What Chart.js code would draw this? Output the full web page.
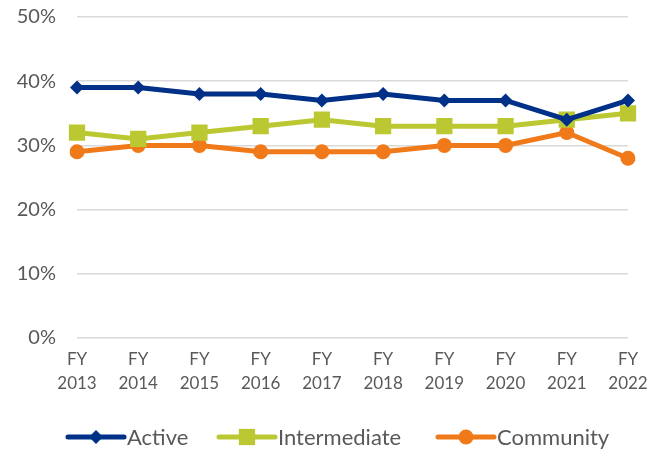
<!DOCTYPE html>
<html>
<head>
<meta charset="utf-8">
<script src="https://cdn.jsdelivr.net/npm/chart.js@4/dist/chart.umd.min.js"></script>
<style>
  body { margin: 0; background: #fff; }
  #wrap { width: 665px; height: 451px; }
</style>
</head>
<body>
<div id="wrap"><canvas id="shareChart" width="665" height="451"></canvas></div>
<script>
// fiscal years on the x axis
const years = ["2013", "2014", "2015", "2016", "2017", "2018", "2019", "2020", "2021", "2022"];
const yTicks = [0, 10, 20, 30, 40, 50];

// share of members per group (%)
const active = [39, 39, 38, 38, 37, 38, 37, 37, 34, 37];
const intermediate = [32, 31, 32, 33, 34, 33, 33, 33, 34, 35];
const community = [29, 30, 30, 29, 29, 29, 30, 30, 32, 28];

const FONT = "Lato, 'Open Sans', sans-serif";
const TEXT = "#595959";

// legend drawn by hand: line + marker, like the office chart
const lineLegend = {
  id: "lineLegend",
  afterDraw(chart) {
    const ctx = chart.ctx;
    const y = 437;
    const starts = [68, 219, 438];
    ctx.save();
    chart.data.datasets.forEach((ds, i) => {
      const x0 = starts[i];
      ctx.strokeStyle = ds.borderColor;
      ctx.lineWidth = 5;
      ctx.lineCap = "round";
      ctx.beginPath();
      ctx.moveTo(x0, y);
      ctx.lineTo(x0 + 56, y);
      ctx.stroke();
      ctx.fillStyle = ds.borderColor;
      Chart.helpers.drawPoint(ctx, {
        pointStyle: ds.pointStyle,
        radius: ds.pointRadius,
        borderWidth: 0,
        rotation: 0,
      }, x0 + 28, y);
      ctx.fillStyle = TEXT;
      ctx.font = "22px " + FONT;
      ctx.textBaseline = "middle";
      ctx.textAlign = "left";
      ctx.fillText(ds.label, x0 + 59, y + 1);
    });
    ctx.restore();
  },
};

const ctx = document.getElementById("shareChart").getContext("2d");
new Chart(ctx, {
  type: "line",
  data: {
    labels: years.map((y) => ["FY", y]),
    datasets: [
      {
        label: "Active",
        data: active,
        borderColor: "#003087",
        backgroundColor: "#003087",
        borderWidth: 5,
        pointStyle: "rectRot",
        pointRadius: 7,
        pointBorderWidth: 0,
      },
      {
        label: "Intermediate",
        data: intermediate,
        borderColor: "#BCC832",
        backgroundColor: "#BCC832",
        borderWidth: 5,
        pointStyle: "rect",
        pointRadius: 11.5,
        pointBorderWidth: 0,
      },
      {
        label: "Community",
        data: community,
        borderColor: "#F07A1A",
        backgroundColor: "#F07A1A",
        borderWidth: 5,
        pointStyle: "circle",
        pointRadius: 7.5,
        pointBorderWidth: 0,
      },
    ],
  },
  options: {
    responsive: false,
    animation: false,
    layout: { padding: { top: 0, right: 37, left: 0, bottom: 0 } },
    plugins: {
      legend: { display: false },
      tooltip: { enabled: false },
    },
    scales: {
      x: {
        offset: false,
        grid: { display: false },
        border: { display: false },
        ticks: {
          color: TEXT,
          font: { family: FONT, size: 17, lineHeight: 1.45 },
          padding: 1,
          maxRotation: 0,
          autoSkip: false,
        },
        afterFit: (scale) => { scale.height = 113; },
      },
      y: {
        min: 0,
        max: 50,
        afterBuildTicks: (scale) => { scale.ticks = yTicks.map((v) => ({ value: v })); },
        grid: { color: "#D9D9D9", lineWidth: 1.5, drawTicks: false },
        border: { display: false },
        ticks: {
          color: TEXT,
          font: { family: FONT, size: 20 },
          padding: 21,
          callback: (v) => v + "%",
        },
        afterFit: (scale) => {
          scale.width = 77;
          scale.paddingTop = 17; // tick padding otherwise pushes the plot down
        },
      },
    },
  },
  plugins: [lineLegend],
});
</script>
</body>
</html>
